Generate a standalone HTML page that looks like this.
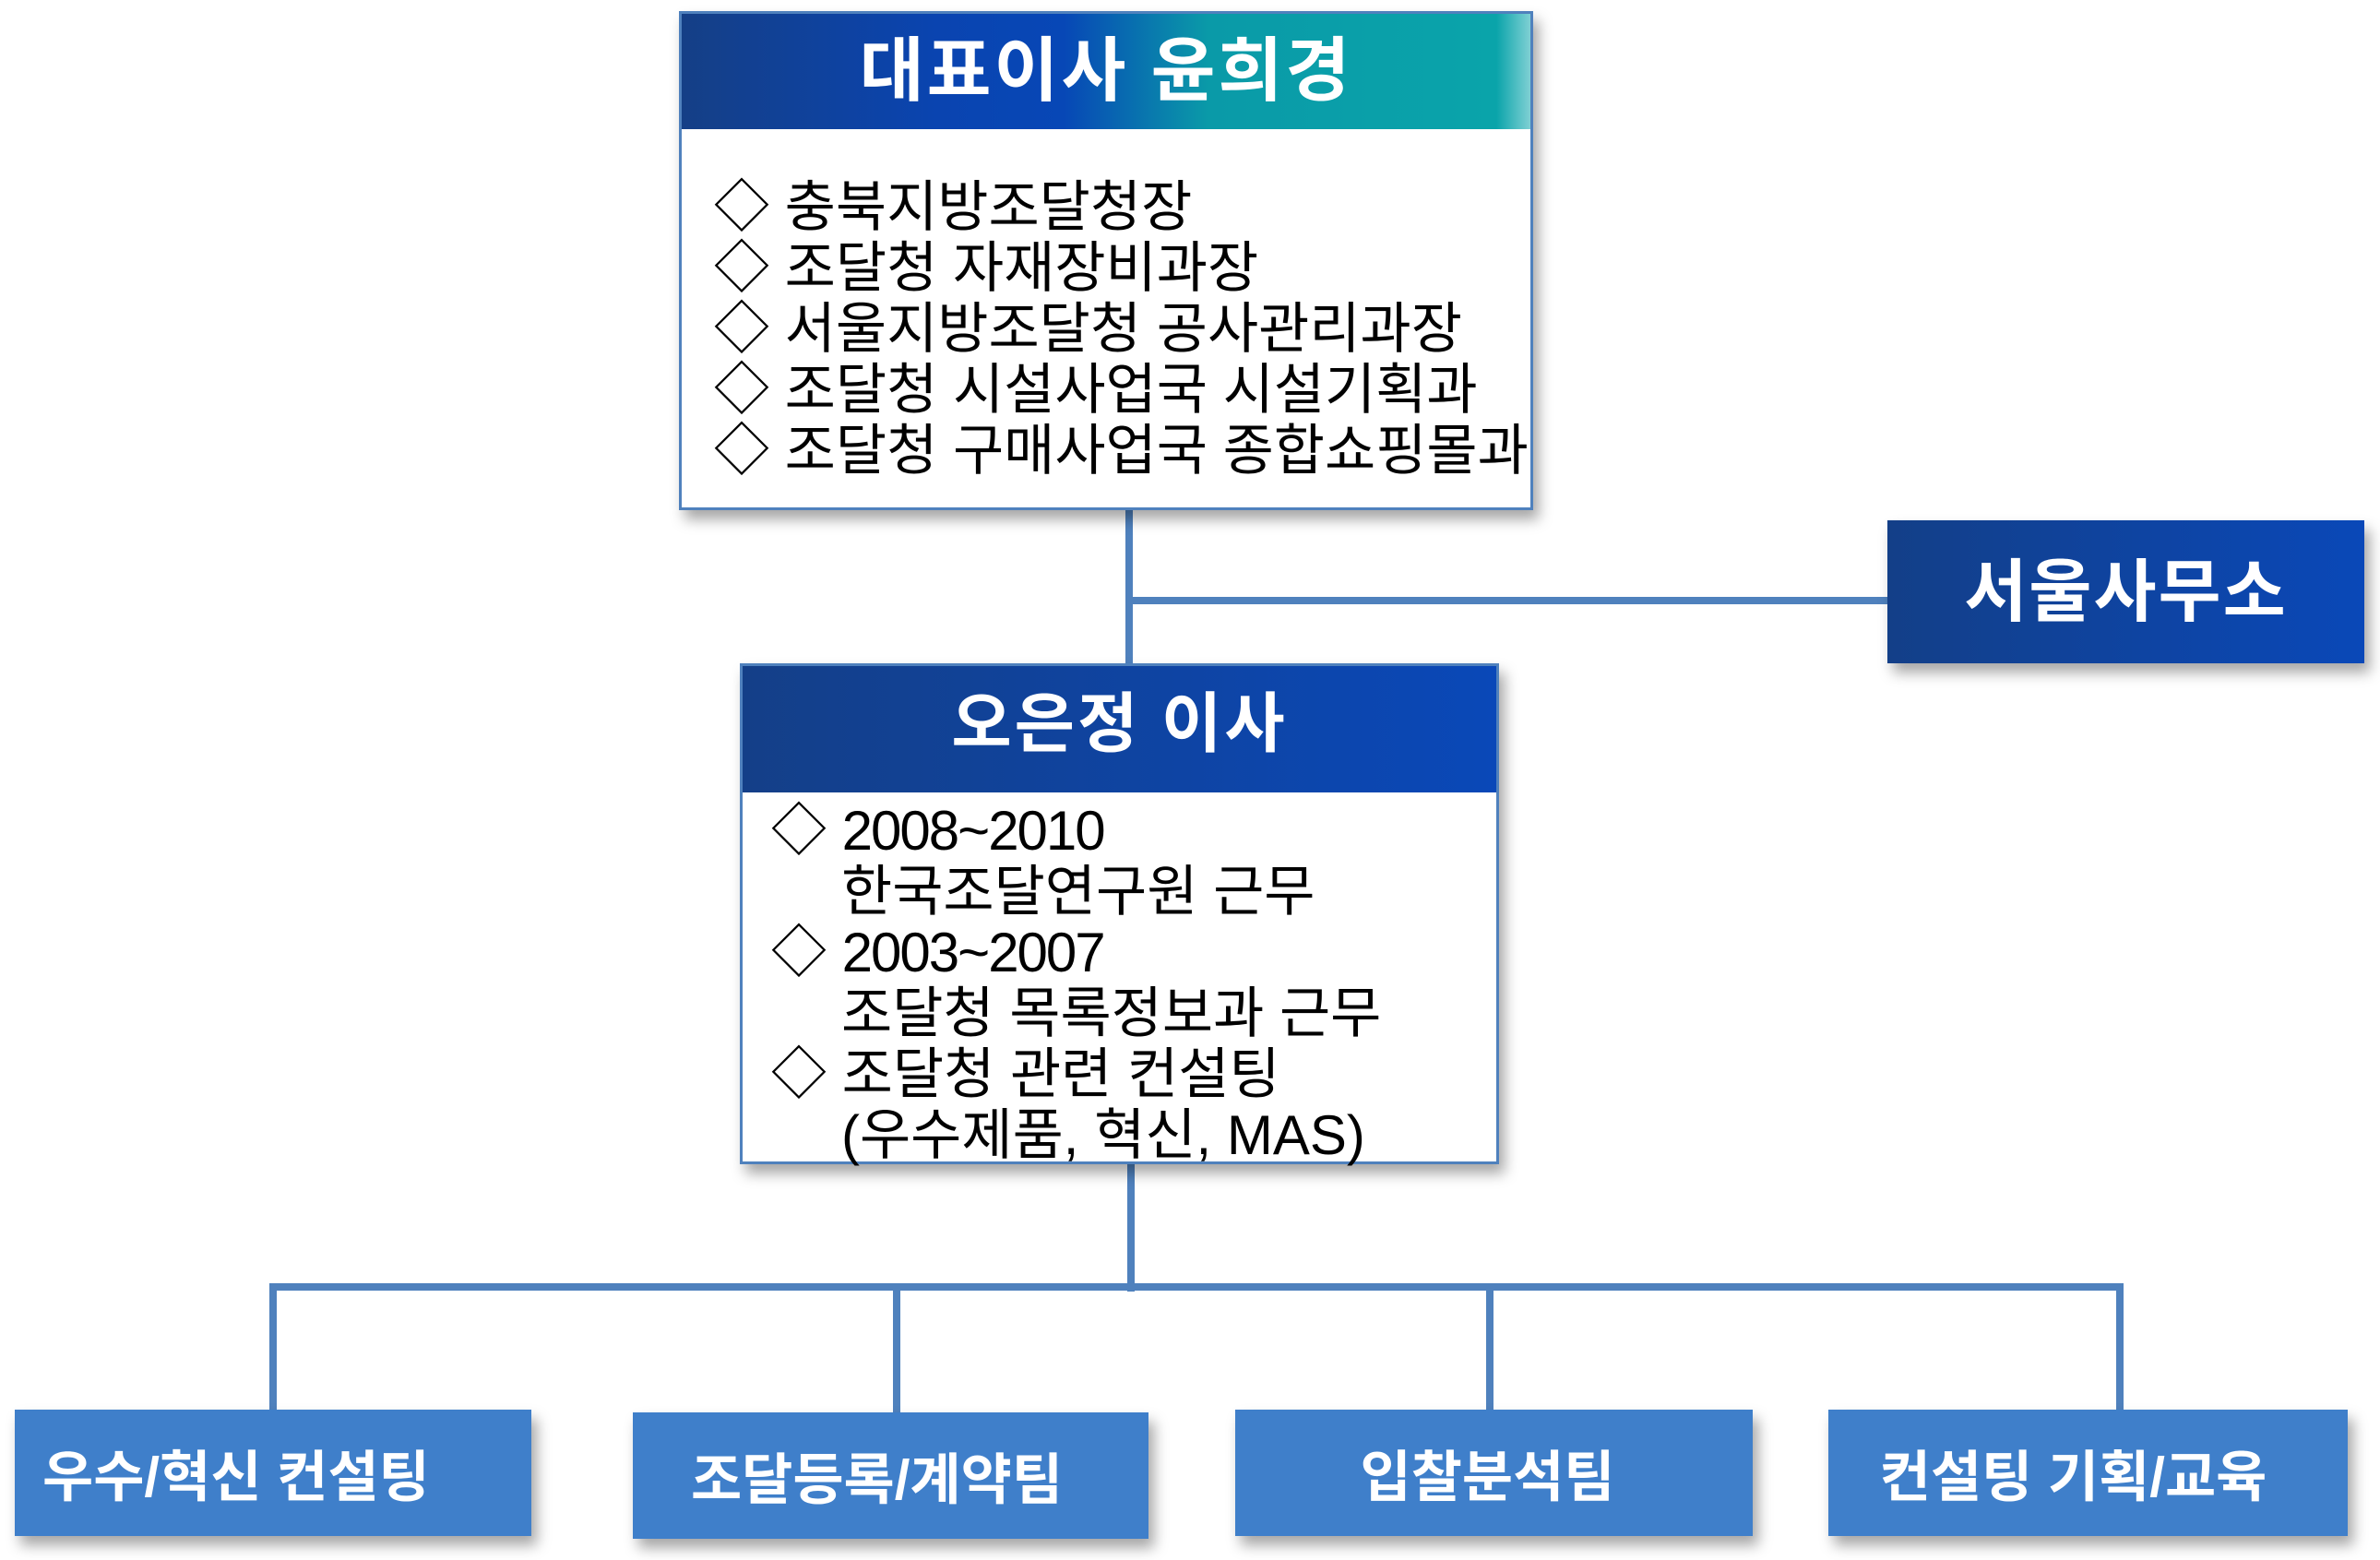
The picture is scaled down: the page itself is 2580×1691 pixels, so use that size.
<!DOCTYPE html>
<html><head><meta charset="utf-8"><style>
*{margin:0;padding:0;box-sizing:border-box}
body{width:2580px;height:1691px;background:#fff;position:relative;overflow:hidden;font-family:"Liberation Sans","Noto Sans CJK KR","NanumGothic",sans-serif}
.ln{position:absolute;background:#4f81bd}
.box{position:absolute;border:3px solid #4f81bd;background:#fff;box-shadow:6px 10px 14px rgba(0,0,0,.35)}
.hd{position:absolute;color:#fff;font-weight:bold;text-align:center;white-space:nowrap}
.t{position:absolute;color:#000;white-space:nowrap;font-size:60px;letter-spacing:0}
.bb{position:absolute;background:#3f7fca;color:#fff;font-weight:bold;font-size:60px;box-shadow:6px 10px 14px rgba(0,0,0,.35);display:flex;align-items:center;justify-content:center;white-space:nowrap}
</style></head><body>
<div class="ln" style="left:1220px;top:553px;width:8px;height:168px"></div>
<div class="ln" style="left:1220px;top:647px;width:830px;height:8px"></div>
<div class="ln" style="left:1222px;top:1260px;width:8px;height:140px"></div>
<div class="ln" style="left:292px;top:1391px;width:2010px;height:8px"></div>
<div class="ln" style="left:292px;top:1391px;width:8px;height:140px"></div>
<div class="ln" style="left:968px;top:1391px;width:8px;height:140px"></div>
<div class="ln" style="left:1611px;top:1391px;width:8px;height:140px"></div>
<div class="ln" style="left:2294px;top:1391px;width:8px;height:140px"></div>

<div class="box" style="left:736px;top:12px;width:926px;height:541px"></div>
<div class="hd" style="left:739px;top:15px;width:920px;height:125px;background:linear-gradient(90deg,#153f86 0%,#0a44b0 30%,#0747b6 45%,#0a9aa8 62%,#0aa4aa 96%,#7fd0d4 100%);font-size:76px;line-height:125px;letter-spacing:3px">대표이사 윤희경</div>
<div class="t" style="left:774px;top:192px;line-height:66px">◇ 충북지방조달청장<br>◇ 조달청 자재장비과장<br>◇ 서울지방조달청 공사관리과장<br>◇ 조달청 시설사업국 시설기획과<br>◇ 조달청 구매사업국 종합쇼핑몰과</div>

<div class="hd" style="left:2046px;top:564px;width:517px;height:155px;background:linear-gradient(90deg,#133f88,#0a48b8);font-size:74px;line-height:155px;letter-spacing:2px;box-shadow:6px 10px 14px rgba(0,0,0,.35)">서울사무소</div>

<div class="box" style="left:802px;top:719px;width:823px;height:543px"></div>
<div class="hd" style="left:805px;top:722px;width:817px;height:137px;background:linear-gradient(90deg,#143f88,#0a48b8);font-size:71px;line-height:128px;letter-spacing:3px">오은정 이사</div>
<div class="t" style="left:836px;top:868px;line-height:66px">◇ <span style="letter-spacing:-2px">2008~2010</span><br><span style="padding-left:76px">한국조달연구원 근무</span><br>◇ <span style="letter-spacing:-2px">2003~2007</span><br><span style="padding-left:76px">조달청 목록정보과 근무</span><br>◇ 조달청 관련 컨설팅<br><span style="padding-left:76px">(우수제품, 혁신, MAS)</span></div>

<div class="bb" style="left:16px;top:1528px;width:560px;height:137px;justify-content:flex-start;padding-left:30px">우수/혁신 컨설팅</div>
<div class="bb" style="left:686px;top:1531px;width:559px;height:137px;padding-right:30px">조달등록/계약팀</div>
<div class="bb" style="left:1339px;top:1528px;width:561px;height:137px;padding-right:14px">입찰분석팀</div>
<div class="bb" style="left:1982px;top:1528px;width:563px;height:137px;padding-right:32px">컨설팅 기획/교육</div>
</body></html>
